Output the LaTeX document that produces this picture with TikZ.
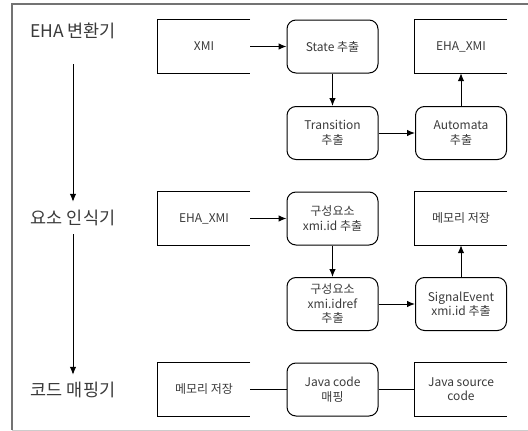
\documentclass[tikz,border=0pt]{standalone}
\usepackage{fontspec}
\setmainfont{Noto Sans CJK KR}
\usetikzlibrary{arrows.meta}
\definecolor{txt}{HTML}{3A3A3A}
\tikzset{
  every node/.style={text=txt},
  databox/.style={minimum width=92pt, minimum height=53pt, inner sep=0pt, font=\fontsize{12}{14}\selectfont, align=center},
  procbox/.style={draw, rounded corners=9pt, line width=1pt, minimum width=91pt, minimum height=53pt, inner sep=0pt, font=\fontsize{12}{14.5}\selectfont, align=center},
  stage/.style={inner sep=0pt, font=\fontsize{17.5}{19}\selectfont},
  arr/.style={-{Latex[length=8pt,width=6.5pt]}, line width=1pt},
  link/.style={line width=1pt},
  openline/.style={line width=1pt},
  frameline/.style={draw=black!55, line width=1.5pt}
}
\begin{document}
\begin{tikzpicture}[x=1pt,y=-1pt]
\useasboundingbox (0,0) rectangle (528,431);
% frame
\draw[frameline] (535,4) -- (12,4) -- (12,430);
\draw[black!20, line width=1pt] (12,430) -- (535,430);

% stage labels
\node[stage, minimum height=66pt] (l1) at (73,31) {EHA 변환기};
\node[stage, minimum height=32pt] (l2) at (73,218) {요소 인식기};
\node[stage, minimum height=30pt] (l3) at (73,390) {코드 매핑기};
\draw[arr] (l1.south) -- (l2.north);
\draw[arr] (l2.south) -- (l3.north);

% row 1
\node[databox] (xmi) at (204,46.5) {XMI};
\node[procbox] (state) at (332.5,46.5) {State 추출};
\node[databox] (eha1) at (461,46.5) {EHA\_XMI};
\node[procbox] (trans) at (332.5,133) {Transition\\추출};
\node[procbox] (auto) at (461,133) {Automata\\추출};

% row 2
\node[databox] (eha2) at (204,218.5) {EHA\_XMI};
\node[procbox] (cid) at (332.5,218.5) {구성요소\\xmi.id 추출};
\node[databox] (mem1) at (461,218.5) {메모리 저장};
\node[procbox] (cref) at (332.5,304) {구성요소\\xmi.idref\\추출};
\node[procbox] (sig) at (461,304) {SignalEvent\\xmi.id 추출};

% row 3
\node[databox] (mem2) at (204,389.5) {메모리 저장};
\node[procbox] (java) at (332.5,389.5) {Java code\\매핑};
\node[databox] (src) at (461,389.5) {Java source\\code};

% open data boxes
\foreach \n in {xmi,eha1,eha2,mem1,mem2,src}
  \draw[openline] (\n.north east) -- (\n.north west) -- (\n.south west) -- (\n.south east);

% connectors
\draw[arr] (xmi.east) -- (state.west);
\draw[arr] (state.south) -- (trans.north);
\draw[arr] (trans.east) -- (auto.west);
\draw[arr] (auto.north) -- (eha1.south);
\draw[arr] (eha2.east) -- (cid.west);
\draw[arr] (cid.south) -- (cref.north);
\draw[arr] (cref.east) -- (sig.west);
\draw[arr] (sig.north) -- (mem1.south);
\draw[link] (mem2.east) -- (java.west);
\draw[link] (java.east) -- (src.west);
\end{tikzpicture}
\end{document}
